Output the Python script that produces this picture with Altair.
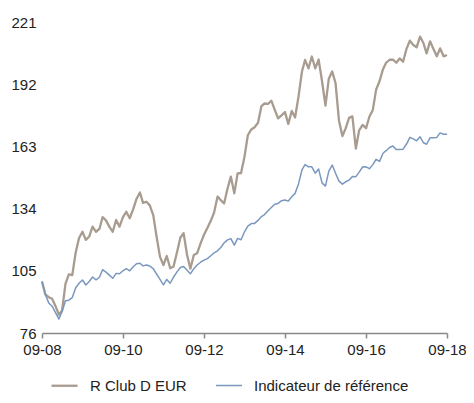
import altair as alt
import pandas as pd

months = pd.date_range("2008-09-01", periods=121, freq="MS").strftime("%Y-%m-%d").tolist()

fund = [100, 94, 92.7, 92, 88.5, 84.5, 86.5, 99, 103.3, 103,
        113.3, 120.3, 123.2, 119.4, 121, 125.6, 123.2, 124.5, 130, 128.5,
        125.6, 123.2, 128.7, 125.6, 130, 132.5, 129.5, 133.5, 138.5, 141.5,
        136.7, 137.2, 135.5, 131, 121, 111.5, 107.7, 111.9, 106.2, 107,
        113.5, 120.5, 122.5, 112.5, 106, 112.4, 113.2, 117.8, 121.8, 125,
        128.3, 132.2, 139.6, 137.8, 136.4, 143.4, 148.9, 141.1, 150.4, 150.6,
        158.2, 168.2, 170.9, 171.9, 174, 181.8, 183, 182.8, 184.3, 180,
        176.1, 177.5, 179, 173.5, 179.5, 176.5, 186.2, 197.9, 203.3, 199.4,
        204.9, 199.4, 203.5, 193.5, 182, 194.5, 197.9, 192.5, 175, 167.8,
        171.4, 176.3, 177, 162, 170.5, 173, 171.5, 176.8, 180, 189.5,
        193.5, 199, 202, 203.4, 203.5, 202, 204, 202.5, 208.5, 212.3,
        210.3, 209.2, 214.2, 211.1, 206.4, 212, 208.5, 205, 208.7, 205,
        205.6]

bench = [100, 94, 90, 88.5, 85.5, 82.5, 86, 91, 91.3, 92.5,
         97, 99.2, 100.7, 98.4, 100, 102.1, 100.8, 102, 105.5, 104.4,
         103, 101.5, 103.8, 103.6, 105, 106, 105, 106.8, 108.3, 108.5,
         107.3, 107.7, 107.2, 106, 103.5, 101, 98.4, 101, 99.2, 102,
         104.5, 106.5, 107, 105.3, 103.6, 106, 107.7, 109, 110, 110.7,
         112, 113.4, 114.3, 116, 118, 119.4, 120, 117, 120.1, 119.5,
         123.2, 125.8, 127, 127.1, 128.5, 130.3, 131.2, 133, 134.5, 136,
         136.4, 137.7, 138, 137.5, 139.5, 141.1, 145.5, 152, 154.5, 153.5,
         153.5, 150.5, 152.5, 146, 144.5, 151.5, 154.3, 150.5, 146.8, 145.4,
         146.5, 147.3, 149, 148.9, 151, 153.4, 153.5, 152.6, 154.5, 157,
         156, 159.8, 161, 162.5, 163.2, 161.5, 161.5, 161.7, 164.1, 167.2,
         166.5, 165.6, 167.5, 164.7, 164, 167, 167, 167.2, 169.3, 168.7,
         168.7]

series_names = ["R Club D EUR", "Indicateur de référence"]
y_ticks = [76, 105, 134, 163, 192, 221]
x_ticks = ["2008-09-01", "2010-09-01", "2012-09-01", "2014-09-01", "2016-09-01", "2018-09-01"]

df = pd.concat([
    pd.DataFrame({"date": months, "value": fund, "series": series_names[0]}),
    pd.DataFrame({"date": months, "value": bench, "series": series_names[1]}),
])

x_tick_values = [alt.DateTime(year=int(t[:4]), month=int(t[5:7]), date=1) for t in x_ticks]

chart = alt.Chart(df).mark_line(strokeJoin="round").encode(
    x=alt.X("date:T",
            scale=alt.Scale(domain=[alt.DateTime(year=2008, month=9, date=1),
                                    alt.DateTime(year=2018, month=9, date=1)]),
            axis=alt.Axis(values=x_tick_values, format="%m-%y", title=None,
                          grid=False, domainColor="#888888", tickColor="#888888",
                          tickSize=5, labelPadding=4, labelFontSize=15,
                          labelFlush=False, labelOverlap=False,
                          labelColor="#222222", labelFont="Liberation Sans",
                          domainWidth=1.5, tickWidth=1.5)),
    y=alt.Y("value:Q",
            scale=alt.Scale(domain=[76, 221], nice=False, zero=False),
            axis=alt.Axis(values=y_ticks, title=None, grid=False, domain=False,
                          ticks=False, labelPadding=6, labelFontSize=15,
                          labelColor="#222222", labelFont="Liberation Sans")),
    color=alt.Color("series:N",
                    scale=alt.Scale(domain=series_names, range=["#a89b8f", "#7a98bf"]),
                    legend=alt.Legend(title=None, orient="none", direction="horizontal",
                                      legendX=8, legendY=349,
                                      symbolType="stroke", symbolSize=676,
                                      symbolStrokeWidth=2, labelFontSize=15,
                                      labelFont="Liberation Sans", labelColor="#222222",
                                      labelOffset=11, columnPadding=26)),
    strokeWidth=alt.StrokeWidth("series:N",
                                scale=alt.Scale(domain=series_names, range=[2.3, 1.5]),
                                legend=None),
).properties(
    width=405, height=311,
    autosize=alt.AutoSizeParams(type="none"),
    padding={"left": 34, "top": 14, "right": 19, "bottom": 62},
).configure_view(stroke=None)

chart.save("out.html", embed_options={"renderer": "svg", "actions": False})
